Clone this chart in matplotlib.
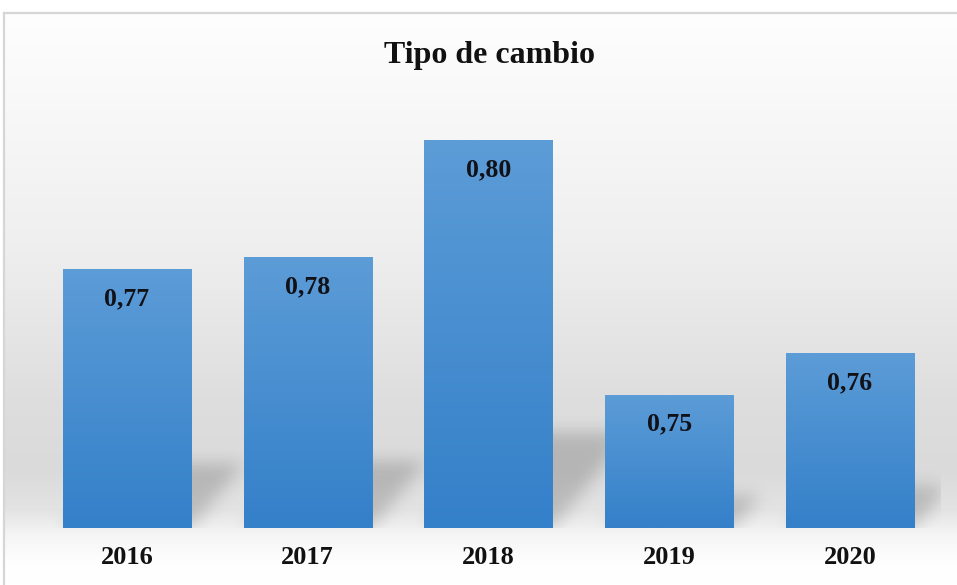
import numpy as np
import matplotlib
matplotlib.use("Agg")
import matplotlib.pyplot as plt

# datos del grafico
anios = ['2016', '2017', '2018', '2019', '2020']
tipo_cambio = [0.7738, 0.7763, 0.8008, 0.7477, 0.7563]
etiquetas = [f"{v:.2f}".replace('.', ',') for v in tipo_cambio]

plt.rcParams['font.family'] = ['Liberation Serif', 'DejaVu Serif']

W_PX, H_PX = 957, 585
fig = plt.figure(figsize=(W_PX / 100, H_PX / 100), dpi=100)
fig.patch.set_facecolor('white')

# fondo con degradado y marco gris
bg = fig.add_axes([0, 0, 1, 1], zorder=0)
bg.set_xlim(0, W_PX)
bg.set_ylim(H_PX, 0)
bg.axis('off')
ys = np.arange(13, H_PX + 1)
gris = np.interp(ys, [13, 100, 250, 400, 470, 510, 535, 560, 585],
                 [0.995, 0.975, 0.935, 0.87, 0.855, 0.89, 0.96, 0.995, 1.0])
grad = np.repeat(gris[:, None], 2, axis=1)
bg.imshow(np.dstack([grad, grad, grad]), extent=(4, W_PX, H_PX, 13),
          aspect='auto', interpolation='bilinear')
bg.plot([4, 4], [H_PX, 13], color='#d6d6d6', lw=1.6)
bg.plot([4, W_PX], [13, 13], color='#d6d6d6', lw=1.6)

# ejes principales (posicion en pixeles)
L, R, T, B = 36.6, 940.4, 100, 528
ax = fig.add_axes([L / W_PX, 1 - B / H_PX, (R - L) / W_PX, (B - T) / H_PX], zorder=1)
ax.patch.set_alpha(0)
xmin, xmax = -0.5, len(anios) - 0.5
ymin = 0.72
ymax = ymin + (B - T) / 4800
ancho = 0.71

# sombra difusa detras de las barras
Wp, Hp = int(R - L), int(B - T)
mask = np.zeros((Hp, Wp))
k, s = 0.25, 0.8
for i, v in enumerate(tipo_cambio):
    x0 = (i - ancho / 2 - xmin) / (xmax - xmin) * Wp
    x1 = (i + ancho / 2 - xmin) / (xmax - xmin) * Wp
    h = (v - ymin) / (ymax - ymin) * Hp
    for r in range(Hp):
        py = Hp - r
        if py <= k * h:
            a, b = int(x0 + s * py), int(x1 + s * py)
            mask[r, max(a, 0):min(b, Wp)] = 1.0
sig = 8
kx = np.arange(-3 * sig, 3 * sig + 1)
ker = np.exp(-kx ** 2 / (2 * sig ** 2))
ker /= ker.sum()
mask = np.apply_along_axis(lambda m: np.convolve(m, ker, mode='same'), 1, mask)
mask = np.apply_along_axis(lambda m: np.convolve(m, ker, mode='same'), 0, mask)
sombra = np.zeros((Hp, Wp, 4))
sombra[..., 3] = 0.17 * mask
ax.imshow(sombra, extent=(xmin, xmax, ymin, ymax), aspect='auto', zorder=1)

# barras con degradado vertical
top_c = np.array([0x5c, 0x9c, 0xd7]) / 255
bot_c = np.array([0x34, 0x80, 0xc9]) / 255
t = np.linspace(0, 1, 100)[:, None]
col = top_c[None, :] * (1 - t) + bot_c[None, :] * t
grad_barra = col[:, None, :]
for i, v in enumerate(tipo_cambio):
    ax.imshow(grad_barra, extent=(i - ancho / 2, i + ancho / 2, ymin, v),
              aspect='auto', zorder=2, interpolation='bilinear')
    ax.annotate(etiquetas[i], (i, v), xytext=(0, -21), textcoords='offset points',
                ha='center', va='center', fontsize=18.5, fontweight='bold',
                color='#111118', zorder=4)

ax.set_xlim(xmin, xmax)
ax.set_ylim(ymin, ymax)
ax.set_xticks(range(len(anios)))
ax.set_xticklabels(anios, fontsize=19, fontweight='bold', color='#111111')
ax.tick_params(axis='x', length=0, pad=13)
ax.set_yticks([])
for sp in ax.spines.values():
    sp.set_visible(False)

fig.text(490 / W_PX, 1 - 55 / H_PX, 'Tipo de cambio', ha='center', va='center',
         fontsize=23, fontweight='bold', color='#111111')

plt.savefig('out.png', dpi=100)
